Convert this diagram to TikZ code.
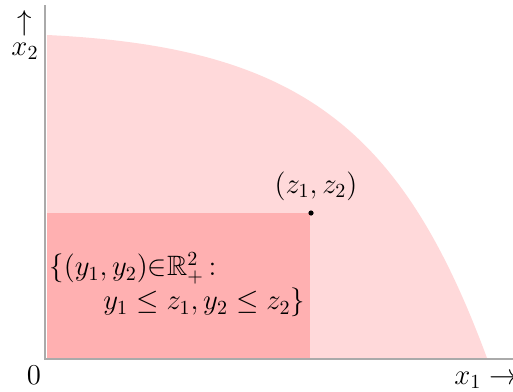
\documentclass[tikz,border=0pt]{standalone}
\usepackage{amssymb}
\definecolor{lightpink}{RGB}{255,217,218}
\definecolor{darkpink}{RGB}{255,176,177}
\definecolor{axisgray}{RGB}{170,170,170}
\tikzset{
  axisline/.style={draw=axisgray, line width=1pt},
  lbl/.style={inner sep=0pt, font=\fontsize{14}{17}\selectfont},
}
\begin{document}
\begin{tikzpicture}[x=0.5pt,y=-0.5pt]
\useasboundingbox (0,0) rectangle (513,391);
% feasible region
\fill[lightpink] (47,358) -- (47,35) .. controls (300,47) and (402,128.5) .. (487,358) -- cycle;
% dominated box
\fill[darkpink] (47,213) rectangle (310,358);
% axes
\coordinate (O) at (45,359);
\coordinate (ytop) at (45,5);
\coordinate (xend) at (513,359);
\draw[axisline] (ytop) -- (O) -- (xend);
% point
\node[circle, fill=black, inner sep=0pt, minimum size=2.6pt] (z) at (311,213) {};
\node[lbl, anchor=south] (zl) at (316,201) {$(z_1,z_2)$};
% labels
\node[lbl] (uparrow) at (25,23) {$\uparrow$};
\node[lbl, anchor=base] (x2) at (25,55) {$x_2$};
\node[lbl, anchor=base] (zero) at (34,384) {$0$};
\node[lbl, anchor=base west] (x1) at (454,384) {$x_1\rightarrow$};
\node[lbl, anchor=north west, align=left] (set) at (49,252) {$\{(y_1,y_2)\mathord{\in}\mathbb{R}^2_+\,{:}$\\[0pt]\hspace*{27pt}$y_1\le z_1, y_2\le z_2\}$};
\end{tikzpicture}
\end{document}
